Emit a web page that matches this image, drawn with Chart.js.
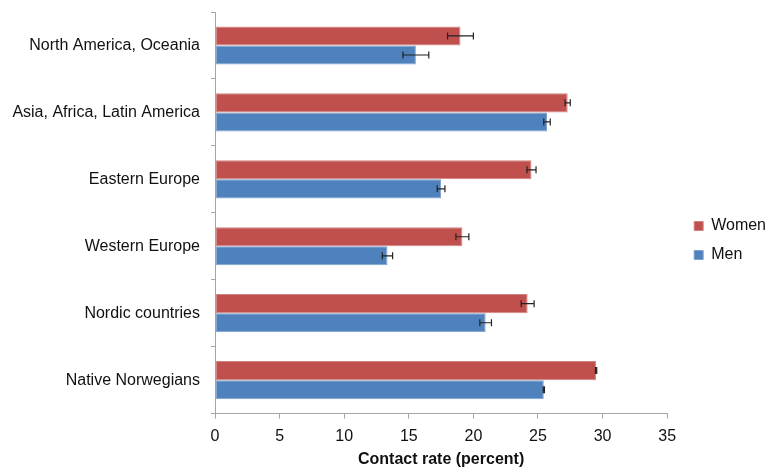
<!DOCTYPE html>
<html lang="en">
<head>
    <meta charset="UTF-8">
    <title>Contact rate</title>
    <script src="https://cdn.jsdelivr.net/npm/chart.js"></script>
    <style>
        html, body { margin: 0; padding: 0; background: #fff; }
        #wrap { width: 767px; height: 467px; }
    </style>
</head>
<body>
    <div id="wrap"><canvas id="chart"></canvas></div>

    <script>
        const regions = ['North America, Oceania', 'Asia, Africa, Latin America', 'Eastern Europe', 'Western Europe', 'Nordic countries', 'Native Norwegians'];
        const women = [19.0, 27.3, 24.5, 19.15, 24.2, 29.5];
        const womenErr = [1.0, 0.2, 0.35, 0.5, 0.5, 0.05];
        const men = [15.55, 25.7, 17.5, 13.35, 20.95, 25.45];
        const menErr = [1.0, 0.25, 0.3, 0.4, 0.45, 0.05];
        const xTicks = [0, 5, 10, 15, 20, 25, 30, 35];

        // whiskers drawn through the chart scales
        const errorBars = {
            id: 'errorBars',
            afterDatasetsDraw(chart) {
                const ctx = chart.ctx;
                const x = chart.scales.x;
                ctx.save();
                ctx.strokeStyle = '#222';
                ctx.lineWidth = 1.2;
                chart.data.datasets.forEach((ds, i) => {
                    const meta = chart.getDatasetMeta(i);
                    meta.data.forEach((bar, j) => {
                        const v = ds.data[j], e = ds.err[j];
                        const x1 = x.getPixelForValue(v - e), x2 = x.getPixelForValue(v + e);
                        const y = bar.y;
                        ctx.beginPath();
                        ctx.moveTo(x1, y); ctx.lineTo(x2, y);
                        ctx.moveTo(x1, y - 3.5); ctx.lineTo(x1, y + 3.5);
                        ctx.moveTo(x2, y - 3.5); ctx.lineTo(x2, y + 3.5);
                        ctx.stroke();
                    });
                });
                ctx.restore();
            }
        };

        // push the legend a bit further right
        const legendShift = {
            id: 'legendShift',
            afterLayout(chart) {
                const lg = chart.legend;
                if (lg) { lg.left += 14; lg.right += 14; }
            }
        };

        Chart.defaults.font.family = '"Liberation Sans", Arial, sans-serif';
        Chart.defaults.font.size = 16;
        Chart.defaults.color = '#111';

        new Chart(document.getElementById('chart'), {
            type: 'bar',
            data: {
                labels: regions,
                datasets: [
                    { label: 'Women', data: women, err: womenErr, backgroundColor: '#C0504D', borderColor: '#D08583', borderWidth: 1, borderSkipped: false },
                    { label: 'Men', data: men, err: menErr, backgroundColor: '#4F81BD', borderColor: '#7FA2CE', borderWidth: 1, borderSkipped: false }
                ]
            },
            options: {
                indexAxis: 'y',
                responsive: true,
                maintainAspectRatio: false,
                animation: false,
                categoryPercentage: 0.57,
                barPercentage: 1.0,
                layout: { padding: { top: 12, right: 5, bottom: -2, left: 8 } },
                scales: {
                    x: {
                        min: 0, max: 35,
                        afterBuildTicks: axis => { axis.ticks = xTicks.map(v => ({ value: v })); },
                        grid: { drawOnChartArea: false, tickLength: 5, color: '#A6A6A6' },
                        border: { color: '#A6A6A6' },
                        ticks: { padding: 8, color: '#111' },
                        title: { display: true, text: 'Contact rate (percent)', font: { weight: 'bold', size: 16 }, padding: { top: -4, bottom: 0 } }
                    },
                    y: {
                        offset: true,
                        afterFit: axis => { axis.width = 207; axis.paddingTop = 0; axis.paddingBottom = 0; },
                        grid: { drawOnChartArea: false, offset: true, tickLength: 4, color: '#A6A6A6' },
                        border: { color: '#A6A6A6' },
                        ticks: { padding: 11, color: '#111' }
                    }
                },
                plugins: {
                    legend: {
                        position: 'right',
                        labels: { boxWidth: 9, boxHeight: 9, padding: 13, color: '#111', font: { size: 16 } }
                    },
                    tooltip: { enabled: false }
                }
            },
            plugins: [errorBars, legendShift]
        });
    </script>
</body>
</html>
